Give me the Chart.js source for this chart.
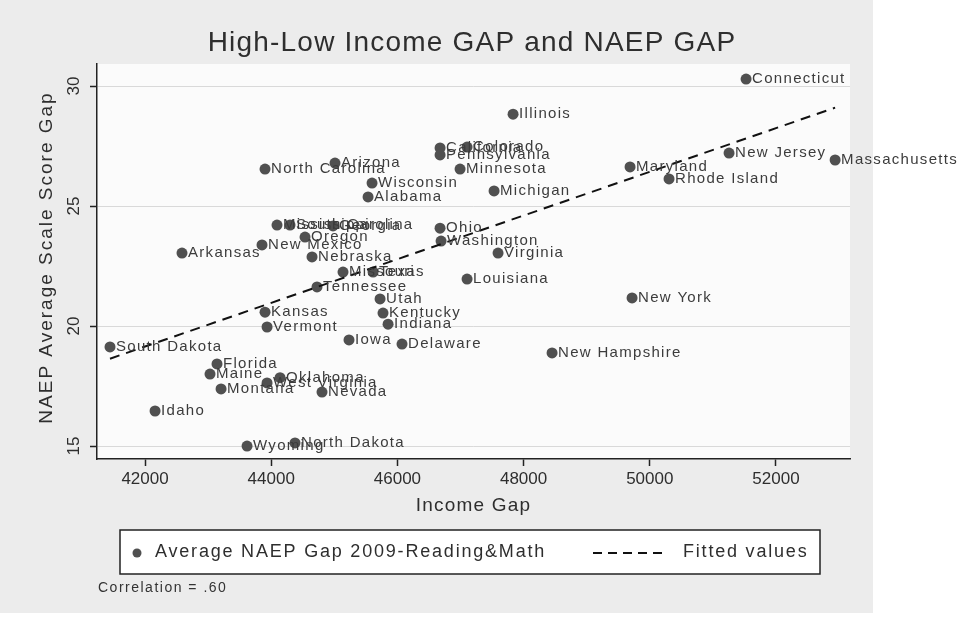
<!DOCTYPE html>
<html>
<head>
<meta charset="utf-8">
<script src="https://cdn.jsdelivr.net/npm/chart.js@4/dist/chart.umd.min.js"></script>
<style>
  html, body { margin: 0; padding: 0; background: #ffffff; }
  #wrap { width: 959px; height: 619px; }
  canvas { display: block; }
</style>
</head>
<body>
<div id="wrap"><canvas id="chart" width="959" height="619"></canvas></div>
<script>
// State-level income gap vs. average NAEP score gap (2009, reading & math)
const states = [
  'Connecticut', 'Illinois', 'California', 'Pennsylvania', 'Colorado', 'Minnesota',
  'North Carolina', 'Arizona', 'Wisconsin', 'Alabama', 'Michigan', 'Maryland',
  'Rhode Island', 'New Jersey', 'Massachusetts', 'Ohio', 'Washington', 'Virginia',
  'Louisiana', 'New York', 'Utah', 'Kentucky', 'Indiana', 'Missouri', 'Texas',
  'Tennessee', 'Nebraska', 'Oregon', 'New Mexico', 'Mississippi', 'South Carolina',
  'Georgia', 'Arkansas', 'Kansas', 'Vermont', 'Iowa', 'Delaware', 'New Hampshire',
  'South Dakota', 'Florida', 'Maine', 'Montana', 'Oklahoma', 'West Virginia',
  'Nevada', 'Idaho', 'Wyoming', 'North Dakota'
];
const incomeGap = [
  51526, 47833, 46676, 46676, 47104, 46993,
  43902, 45011, 45598, 45535, 47532, 49687,
  50305, 51256, 52937, 46676, 46692, 47595,
  47104, 49719, 45725, 45772, 45852, 45138, 45614,
  44726, 44647, 44536, 43854, 44092, 44298,
  44980, 42586, 43902, 43934, 45233, 46073, 48451,
  41445, 43141, 43030, 43205, 44140, 43934,
  44805, 42159, 43617, 44377
];
const naepGap = [
  30.29, 28.83, 27.42, 27.13, 27.46, 26.54,
  26.54, 26.79, 25.96, 25.38, 25.63, 26.63,
  26.13, 27.21, 26.92, 24.08, 23.54, 23.04,
  21.96, 21.17, 21.13, 20.54, 20.08, 22.25, 22.25,
  21.63, 22.88, 23.71, 23.38, 24.21, 24.21,
  24.17, 23.04, 20.58, 19.96, 19.42, 19.25, 18.88,
  19.13, 18.42, 18.00, 17.38, 17.85, 17.63,
  17.25, 16.46, 15.00, 15.13
];
// Linear fit, drawn between the lowest and highest income gap
const fitIncome = [41445, 52937];
const fitNaep = [18.64, 29.10];

const xTicks = [42000, 44000, 46000, 48000, 50000, 52000];
const yTicks = [15, 20, 25, 30];

const FONT = "'Liberation Sans', Arial, Helvetica, sans-serif";
const INK = '#2e2e2e';
const MARKER = '#505050';

const stataPlugin = {
  id: 'stataDecor',
  beforeDraw(chart) {
    const ctx = chart.ctx;
    const a = chart.chartArea;
    ctx.save();
    ctx.fillStyle = '#ffffff';
    ctx.fillRect(0, 0, chart.width, chart.height);
    ctx.fillStyle = '#ececec';
    ctx.fillRect(0, 0, 873, 613);
    ctx.fillStyle = '#fbfbfb';
    ctx.fillRect(a.left, a.top, a.right - a.left, a.bottom - a.top);
    ctx.restore();
  },
  afterDraw(chart) {
    const ctx = chart.ctx;
    const a = chart.chartArea;
    const xs = chart.scales.x;
    const ys = chart.scales.y;
    ctx.save();

    // Title
    ctx.fillStyle = INK;
    ctx.font = `28px ${FONT}`;
    ctx.letterSpacing = '1.2px';
    ctx.textAlign = 'center';
    ctx.textBaseline = 'middle';
    ctx.fillText('High-Low Income GAP and NAEP GAP', 472, 43);

    // Y tick labels, rotated
    ctx.font = `17px ${FONT}`;
    ctx.letterSpacing = '0px';
    yTicks.forEach(v => {
      const py = ys.getPixelForValue(v);
      ctx.save();
      ctx.translate(74, py);
      ctx.rotate(-Math.PI / 2);
      ctx.textAlign = 'center';
      ctx.textBaseline = 'middle';
      ctx.fillText(String(v), 0, 0);
      ctx.restore();
    });

    // Y axis title
    ctx.save();
    ctx.translate(47, (a.top + a.bottom) / 2 - 4);
    ctx.rotate(-Math.PI / 2);
    ctx.font = `19px ${FONT}`;
    ctx.letterSpacing = '2px';
    ctx.textAlign = 'center';
    ctx.textBaseline = 'middle';
    ctx.fillText('NAEP Average Scale Score Gap', 0, 0);
    ctx.restore();

    // X axis title
    ctx.font = `19px ${FONT}`;
    ctx.letterSpacing = '1.2px';
    ctx.textAlign = 'center';
    ctx.textBaseline = 'middle';
    ctx.fillText('Income Gap', (a.left + a.right) / 2, 506);

    // Marker labels to the right of each point
    ctx.font = `15px ${FONT}`;
    ctx.letterSpacing = '1.3px';
    ctx.fillStyle = '#3c3c3c';
    ctx.textAlign = 'left';
    ctx.textBaseline = 'middle';
    states.forEach((s, i) => {
      const px = xs.getPixelForValue(incomeGap[i]);
      const py = ys.getPixelForValue(naepGap[i]);
      ctx.fillText(s, px + 6, py);
    });

    // Legend box
    const ds = chart.data.datasets;
    const lx = 120, ly = 530, lw = 700, lh = 44;
    ctx.letterSpacing = '0px';
    ctx.fillStyle = '#ffffff';
    ctx.fillRect(lx, ly, lw, lh);
    ctx.strokeStyle = '#222222';
    ctx.lineWidth = 1.5;
    ctx.strokeRect(lx, ly, lw, lh);
    const cy = ly + lh / 2;
    ctx.fillStyle = MARKER;
    ctx.beginPath();
    ctx.arc(137, cy + 1, 4.5, 0, Math.PI * 2);
    ctx.fill();
    ctx.fillStyle = INK;
    ctx.font = `18px ${FONT}`;
    ctx.letterSpacing = '1.8px';
    ctx.textAlign = 'left';
    ctx.textBaseline = 'middle';
    ctx.fillText(ds[0].label, 155, cy);
    ctx.strokeStyle = '#111111';
    ctx.lineWidth = 2;
    ctx.setLineDash([9, 6]);
    ctx.beginPath();
    ctx.moveTo(593, cy + 1);
    ctx.lineTo(668, cy + 1);
    ctx.stroke();
    ctx.setLineDash([]);
    ctx.fillText(ds[1].label, 683, cy);

    // Note
    ctx.font = `14px ${FONT}`;
    ctx.letterSpacing = '1.5px';
    ctx.fillStyle = '#333333';
    ctx.fillText('Correlation = .60', 98, 588);

    ctx.restore();
  }
};

new Chart(document.getElementById('chart'), {
  type: 'scatter',
  data: {
    datasets: [
      {
        label: 'Average NAEP Gap 2009-Reading&Math',
        data: states.map((s, i) => ({ x: incomeGap[i], y: naepGap[i] })),
        pointRadius: 5.5,
        pointHoverRadius: 5.5,
        pointBackgroundColor: MARKER,
        pointBorderWidth: 0,
        order: 2
      },
      {
        type: 'line',
        label: 'Fitted values',
        data: fitIncome.map((v, i) => ({ x: v, y: fitNaep[i] })),
        borderColor: '#111111',
        borderWidth: 2,
        borderDash: [10, 7],
        pointRadius: 0,
        fill: false,
        order: 1
      }
    ]
  },
  options: {
    responsive: false,
    animation: false,
    layout: { padding: { top: 64, right: 109, bottom: 100, left: 0 } },
    plugins: {
      legend: { display: false },
      tooltip: { enabled: false },
      title: { display: false }
    },
    scales: {
      x: {
        type: 'linear',
        min: 41239,
        max: 53173,
        afterBuildTicks: s => { s.ticks = xTicks.map(v => ({ value: v })); },
        afterFit: s => { s.height = 60; },
        ticks: {
          color: INK,
          font: { family: FONT, size: 17 },
          padding: 3,
          maxRotation: 0,
          callback: v => String(v)
        },
        grid: {
          drawOnChartArea: false,
          drawTicks: true,
          tickLength: 7,
          tickColor: '#222222',
          tickWidth: 1.5
        },
        border: { display: true, color: '#222222', width: 1.5 },
        title: { display: false }
      },
      y: {
        type: 'linear',
        min: 14.46,
        max: 30.92,
        afterBuildTicks: s => { s.ticks = yTicks.map(v => ({ value: v })); },
        afterFit: s => { s.width = 97; },
        ticks: { display: false },
        grid: {
          color: '#d9d9d9',
          lineWidth: 1,
          drawTicks: true,
          tickLength: 7,
          tickColor: '#222222',
          tickWidth: 1.5
        },
        border: { display: true, color: '#222222', width: 1.5 }
      }
    }
  },
  plugins: [stataPlugin]
});
</script>
</body>
</html>
